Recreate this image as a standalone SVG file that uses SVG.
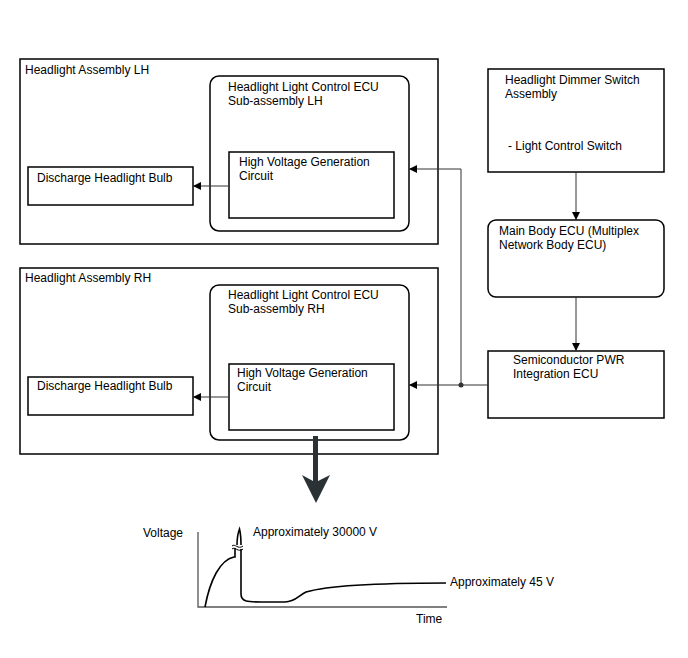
<svg xmlns="http://www.w3.org/2000/svg" width="688" height="658" viewBox="0 0 688 658">
<style>
text{font-family:"Liberation Sans",Arial,sans-serif;font-size:12px;fill:#000}
.box{fill:#fff;stroke:#000;stroke-width:1.5}
.conn{fill:none;stroke:#333;stroke-width:1}
.crv{fill:none;stroke:#000;stroke-width:1.6}
.ax{fill:none;stroke:#555;stroke-width:1.3}
</style>
<defs>
<marker id="ah" viewBox="0 0 10 10" refX="10" refY="5" markerWidth="10" markerHeight="8" markerUnits="userSpaceOnUse" orient="auto">
<path d="M0,0 L10,5 L0,10 z" fill="#000"/>
</marker>
</defs>
<rect width="688" height="658" fill="#fff"/>
<g id="lh">
<rect class="box" x="20" y="59" width="418" height="185"/>
<text x="25" y="74">Headlight Assembly LH</text>
</g>
<g id="ecu-lh">
<rect class="box" x="210" y="76" width="199" height="155" rx="9"/>
<text x="228" y="91">Headlight Light Control ECU</text>
<text x="228" y="105">Sub-assembly LH</text>
</g>
<g id="hvg-lh">
<rect class="box" x="229" y="152" width="165" height="66"/>
<text x="239" y="166">High Voltage Generation</text>
<text x="239" y="180">Circuit</text>
</g>
<g id="bulb-lh">
<rect class="box" x="28" y="167" width="165" height="38"/>
<text x="37" y="182">Discharge Headlight Bulb</text>
</g>
<g id="rh">
<rect class="box" x="20" y="268" width="418" height="186"/>
<text x="25" y="282">Headlight Assembly RH</text>
</g>
<g id="ecu-rh">
<rect class="box" x="210" y="285" width="199" height="155" rx="9"/>
<text x="228" y="299">Headlight Light Control ECU</text>
<text x="228" y="313">Sub-assembly RH</text>
</g>
<g id="hvg-rh">
<rect class="box" x="229" y="364" width="165" height="66"/>
<text x="237" y="377">High Voltage Generation</text>
<text x="237" y="391">Circuit</text>
</g>
<g id="bulb-rh">
<rect class="box" x="28" y="377" width="165" height="38"/>
<text x="37" y="390">Discharge Headlight Bulb</text>
</g>
<g id="dimmer">
<rect class="box" x="488" y="69" width="176" height="103"/>
<text x="505" y="84">Headlight Dimmer Switch</text>
<text x="505" y="98">Assembly</text>
<text x="508" y="150">- Light Control Switch</text>
</g>
<g id="mainbody">
<rect class="box" x="488" y="220" width="176" height="77" rx="8"/>
<text x="499" y="235">Main Body ECU (Multiplex</text>
<text x="499" y="249">Network Body ECU)</text>
</g>
<g id="semi">
<rect class="box" x="488" y="351" width="176" height="67"/>
<text x="513" y="364">Semiconductor PWR</text>
<text x="513" y="378">Integration ECU</text>
</g>
<g id="connectors">
<line class="conn" x1="229" y1="186" x2="193" y2="186" marker-end="url(#ah)"/>
<line class="conn" x1="229" y1="397" x2="193" y2="397" marker-end="url(#ah)"/>
<line class="conn" x1="576" y1="172" x2="576" y2="220" marker-end="url(#ah)"/>
<line class="conn" x1="576" y1="297" x2="576" y2="351" marker-end="url(#ah)"/>
<line class="conn" x1="488" y1="385" x2="409" y2="385" marker-end="url(#ah)"/>
<polyline class="conn" points="461,385 461,169 409,169" marker-end="url(#ah)"/>
<circle cx="461" cy="385" r="2.5" fill="#333"/>
<path d="M313,436 L318,436 L318,481 L330,475 L316,503 L302,475 L313,481 Z" fill="#2b3236"/>
</g>
<g id="graph">
<polyline class="ax" points="198,532 198,607 447,607"/>
<path class="crv" d="M205,607 C210,580 220,560 234,557 L235,557 L235,548"/>
<path class="crv" d="M237,545 C237,538 238,533 239.5,529 C240.5,533 241,538 241,545"/>
<path class="crv" d="M241,549 L241,594 C241,602 248,602 262,602 L285,602 C295,602 298,596 306,592 C330,585 380,583 446,583"/>
<path fill="none" stroke="#000" stroke-width="1" d="M232,546 C235,543 238,550 243,546"/>
<path fill="none" stroke="#000" stroke-width="1" d="M232,549 C235,546 238,553 243,549"/>
<text x="253" y="536">Approximately 30000 V</text>
<text x="450" y="586">Approximately 45 V</text>
<text x="143" y="537">Voltage</text>
<text x="416" y="623">Time</text>
</g>
</svg>
